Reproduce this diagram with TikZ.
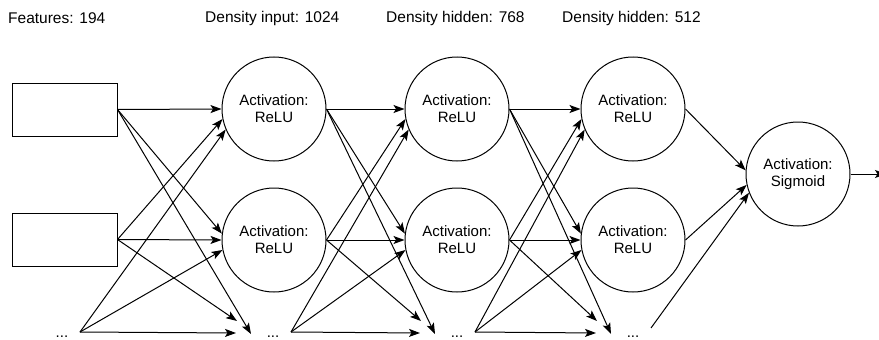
\documentclass[tikz,border=0pt]{standalone}
\usepackage{fontspec}
\setmainfont{Liberation Sans}
\usetikzlibrary{arrows.meta}

\tikzset{
	neuron/.style = {draw, circle, line width = 1pt, minimum size = 104pt, inner sep = 0pt, align = center, font = \fontsize{15}{17}\selectfont},
	feature/.style = {draw, rectangle, line width = 1pt, minimum width = 105pt, minimum height = 53pt},
	more/.style = {anchor = base, inner sep = 0pt, font = \fontsize{15}{17}\selectfont},
	header/.style = {anchor = west, inner sep = 0pt, font = \fontsize{15.5}{18}\selectfont},
	link/.style = {-{Stealth[length = 11pt, width = 8pt, inset = 2.5pt]}, line width = 1pt}
}

\begin{document}
\begin{tikzpicture}[x = 1pt, y = -1pt]
	 \useasboundingbox (0, 0) rectangle (879, 340);
	 
	 \node[header] (t0) at (8, 18) {Features: 194};
	 \node[header] (t1) at (205, 18) {Density input: 1024};
	 \node[header] (t2) at (386, 18) {Density hidden: 768};
	 \node[header] (t3) at (562, 18) {Density hidden: 512};
	 
	 \node[feature] (f1) at (64.5, 109.5) {};
	 \node[feature] (f2) at (64.5, 239.5) {};
	 \node[more] (f3) at (62, 337) {...};
	 
	 \node[neuron] (a1) at (274, 109) {Activation:\\ReLU};
	 \node[neuron] (a2) at (274, 240) {Activation:\\ReLU};
	 \node[more] (a3) at (273, 337) {...};
	 
	 \node[neuron] (b1) at (457, 109) {Activation:\\ReLU};
	 \node[neuron] (b2) at (457, 240) {Activation:\\ReLU};
	 \node[more] (b3) at (457, 337) {...};
	 
	 \node[neuron] (c1) at (633, 109) {Activation:\\ReLU};
	 \node[neuron] (c2) at (633, 240) {Activation:\\ReLU};
	 \node[more] (c3) at (633, 337) {...};
	 
	 \node[neuron] (out) at (798, 174) {Activation:\\Sigmoid};
	 \coordinate (y) at (886, 174);
	 
	 % every layer to the next one
	 \foreach \s/\t in {f/a, a/b, b/c}
	 {
	 \draw[link] (\s1.east) -- (\t1.west);
	 \draw[link] (\s2.east) -- (\t1.191);
	 \draw[link] ([shift = {(18, -5)}]\s3.base) -- (\t1.203);
	 \draw[link] (\s1.east) -- (\t2.173);
	 \draw[link] (\s2.east) -- (\t2.west);
	 \draw[link] ([shift = {(18, -5)}]\s3.base) -- (\t2.191);
	 \draw[link] (\s1.east) -- ([shift = {(-22, -3)}]\t3.base);
	 \draw[link] (\s2.east) -- ([shift = {(-36, -16)}]\t3.base);
	 \draw[link] ([shift = {(18, -5)}]\s3.base) -- ([shift = {(-37, -4)}]\t3.base);
	 }
	 
	 \draw[link] (c1.east) -- (out.176);
	 \draw[link] (c2.east) -- (out.192);
	 \draw[link] ([shift = {(18, -9)}]c3.base) -- (out.201);
	 \draw[link] (out.east) -- (y);
\end{tikzpicture}
\end{document}
